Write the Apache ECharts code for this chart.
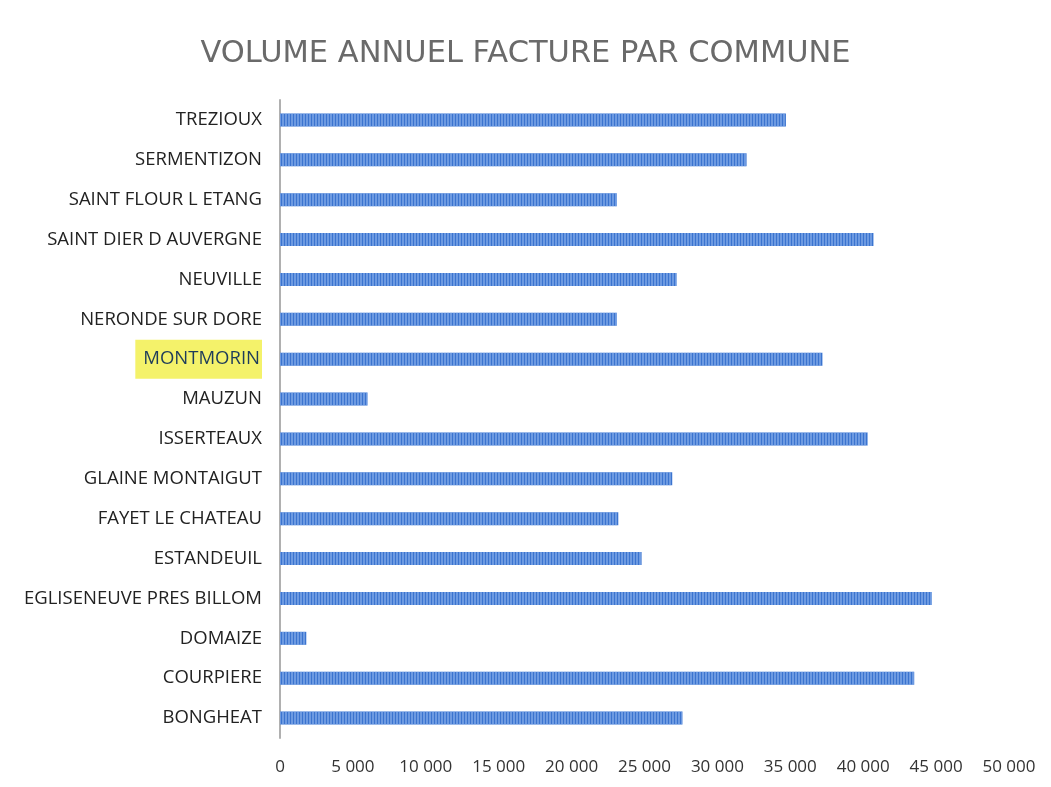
<!DOCTYPE html>
<html>
<head>
<meta charset="utf-8">
<script src="https://cdn.jsdelivr.net/npm/echarts@6/dist/echarts.min.js"></script>
<style>html,body{margin:0;padding:0;background:#fff}#c{width:1051px;height:787px}</style>
</head>
<body>
<div id="c"></div>
<script>
const titleText = 'VOLUME ANNUEL FACTURE PAR COMMUNE';
const categories = ['BONGHEAT','COURPIERE','DOMAIZE','EGLISENEUVE PRES BILLOM','ESTANDEUIL','FAYET LE CHATEAU','GLAINE MONTAIGUT','ISSERTEAUX','MAUZUN','MONTMORIN','NERONDE SUR DORE','NEUVILLE','SAINT DIER D AUVERGNE','SAINT FLOUR L ETANG','SERMENTIZON','TREZIOUX'];
const volumes = [27600, 43500, 1800, 44700, 24800, 23200, 26900, 40300, 6000, 37200, 23100, 27200, 40700, 23100, 32000, 34700];
const highlighted = ['MONTMORIN'];
const xTicks = [0, 5000, 10000, 15000, 20000, 25000, 30000, 35000, 40000, 45000, 50000];

const chart = echarts.init(document.getElementById('c'));
chart.setOption({
  backgroundColor: '#fff',
  animation: false,
  title: {
    text: titleText,
    left: 'center',
    top: 34,
    textStyle: {fontFamily: 'DejaVu Sans', fontSize: 30.5, fontWeight: 'normal', color: '#6a6a6a'}
  },
  grid: {left: 280, right: 42, top: 100, bottom: 49, containLabel: false},
  xAxis: {
    type: 'value',
    min: xTicks[0], max: xTicks[xTicks.length - 1], interval: 5000,
    axisLine: {show: false}, axisTick: {show: false},
    splitLine: {show: false},
    axisLabel: {
      margin: 21, fontFamily: 'Open Sans', fontSize: 17, color: '#333',
      formatter: v => v === 0 ? '0' : String(v).replace(/\B(?=(\d{3})+(?!\d))/g, ' ')
    }
  },
  yAxis: {
    type: 'category',
    data: categories,
    axisLine: {show: true, lineStyle: {color: '#b0b0b0', width: 2}},
    axisTick: {show: false},
    axisLabel: {
      margin: 18, fontFamily: 'Open Sans', fontSize: 18.5, color: '#222',
      formatter: v => highlighted.includes(v) ? '{hl|' + v + '}' : v,
      rich: {hl: {backgroundColor: '#f4f26a', color: '#1e3c5a', fontFamily: 'Open Sans', fontSize: 18.5, padding: [10, 2, 10, 8]}}
    }
  },
  series: [{
    type: 'bar',
    data: volumes,
    barWidth: 13,
    itemStyle: {
      color: '#3b74cf',
      decal: {symbol: 'rect', dashArrayX: [[2, 1]], dashArrayY: [1, 0], rotation: 0, color: 'rgba(150,185,240,0.55)'}
    }
  }]
});
</script>
</body>
</html>
